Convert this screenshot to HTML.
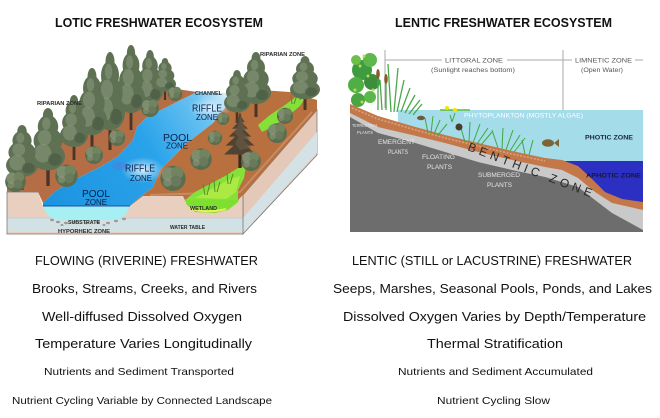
<!DOCTYPE html>
<html><head><meta charset="utf-8">
<style>
html,body{margin:0;padding:0;background:#fff;}
svg{display:block;}
text{font-family:"Liberation Sans",sans-serif;}
</style></head><body>
<svg width="660" height="418" viewBox="0 0 660 418" xmlns="http://www.w3.org/2000/svg">
<defs>
<symbol id="con" viewBox="0 0 20 50" preserveAspectRatio="none">
 <rect x="9" y="38" width="2" height="12" fill="#4b3526"/>
 <ellipse cx="10" cy="31" rx="10" ry="9" fill="#5e7153"/>
 <ellipse cx="10" cy="21" rx="8.5" ry="8.5" fill="#5e7153"/>
 <ellipse cx="10" cy="12" rx="6" ry="7.5" fill="#5e7153"/>
 <ellipse cx="10" cy="5" rx="3" ry="5" fill="#5e7153"/>
 <ellipse cx="7" cy="29" rx="5" ry="6" fill="#8a9a7b" opacity="0.55"/>
 <ellipse cx="8" cy="19" rx="4" ry="5" fill="#8a9a7b" opacity="0.55"/>
 <ellipse cx="9" cy="10" rx="2.5" ry="4" fill="#8a9a7b" opacity="0.55"/>
 <ellipse cx="14" cy="33" rx="4" ry="4" fill="#46573f" opacity="0.6"/>
</symbol>
<symbol id="fir" viewBox="0 0 20 50" preserveAspectRatio="none">
 <rect x="9" y="38" width="2" height="12" fill="#3b2a1e"/>
 <polygon points="10,0 11,4 10.5,4 13,9 11,9 15,15 12,15 17,22 13,22 19,30 14,30 20,38 0,38 6,30 1,30 7,22 3,22 8,15 5,15 9,9 7,9 9.5,4 9,4" fill="#4e4434"/>
 <polygon points="10,3 12,10 14,16 11,17 16,24 12,25 17,32 10,34 7,28 9,22 6,18 9,12" fill="#6b5e48" opacity="0.6"/>
</symbol>
<symbol id="bush" viewBox="0 0 20 20" preserveAspectRatio="none">
 <circle cx="10" cy="11" r="9" fill="#5b6d4f"/>
 <circle cx="7" cy="8" r="5" fill="#7d8d6d"/>
 <circle cx="13" cy="7" r="4.5" fill="#71835f"/>
 <circle cx="12" cy="13" r="4" fill="#687a5b"/>
 <circle cx="6" cy="14" r="3" fill="#8a9a7a" opacity=".6"/>
</symbol>
<linearGradient id="riv" gradientUnits="userSpaceOnUse" x1="43" y1="206" x2="232" y2="93">
 <stop offset="0" stop-color="#1b93e0"/>
 <stop offset="0.55" stop-color="#2aa3ea"/>
 <stop offset="0.85" stop-color="#6cc3f1"/>
 <stop offset="1" stop-color="#eef8fd"/>
</linearGradient>
<radialGradient id="rif">
 <stop offset="0" stop-color="#e4f3fc" stop-opacity="0.95"/>
 <stop offset="1" stop-color="#bfe3f8" stop-opacity="0"/>
</radialGradient>
</defs>

<!-- TITLES -->
<text x="55" y="27" font-size="12.5" font-weight="bold" fill="#111" textLength="208" lengthAdjust="spacingAndGlyphs">LOTIC FRESHWATER ECOSYSTEM</text>
<text x="395" y="27" font-size="12.5" font-weight="bold" fill="#111" textLength="217" lengthAdjust="spacingAndGlyphs">LENTIC FRESHWATER ECOSYSTEM</text>

<!-- ================= LEFT DIAGRAM ================= -->
<polygon points="243,195 317,110 317,155 243,234" fill="#e4c8b8" stroke="#7a7a7a" stroke-width="0.8"/>
<polygon points="243,218 317,132 317,153 243,233" fill="#d4e2e5"/>
<polygon points="7,192 38,192 43,206 130,206 143,196 183,196 185,200 238,200 243,195 243,234 7,234" fill="#e8cfc0"/>
<rect x="7" y="218" width="236" height="14" fill="#d2e1e4"/>
<line x1="7" y1="218" x2="243" y2="218" stroke="#b9c8cc" stroke-width="0.8"/>
<path d="M43,206 C46,214 50,220 62,220 L112,220 C123,220 127,213 130,206 Z" fill="#a6f0f4"/>
<g fill="#9a9a9a">
<ellipse cx="52" cy="220" rx="2" ry="1.2"/><ellipse cx="58" cy="222" rx="2" ry="1.2"/><ellipse cx="66" cy="223" rx="2" ry="1.2"/>
<ellipse cx="74" cy="222" rx="2" ry="1.2"/><ellipse cx="86" cy="223" rx="2" ry="1.2"/><ellipse cx="98" cy="222" rx="2" ry="1.2"/>
<ellipse cx="108" cy="223" rx="2" ry="1.2"/><ellipse cx="116" cy="221" rx="2" ry="1.2"/><ellipse cx="124" cy="219" rx="2" ry="1.2"/>
<ellipse cx="62" cy="225" rx="1.5" ry="1"/><ellipse cx="104" cy="225" rx="1.5" ry="1"/>
</g>
<polygon points="183,196 240,196 238,202 228,210 215,213 195,212 187,205" fill="#7ddf2e"/>
<path d="M189,208 Q205,214 226,209" stroke="#e6f25a" stroke-width="2" fill="none"/>
<rect x="7" y="192" width="236" height="42" fill="none" stroke="#7a7a7a" stroke-width="0.8"/>

<!-- terrain -->
<polygon points="7,192 7,178 40,150 70,125 100,105 140,95 170,88 197,92 187,97 167,107 147,117 137,127 133,140 117,157 100,167 80,177 57,190 43,203 38,192" fill="#b56d45"/>
<polygon points="130,206 140,197 153,187 160,170 173,157 187,143 200,133 213,123 220,113 230,103 232,93 260,90 290,92 317,100 317,110 243,195 238,200 185,200 183,196 143,196" fill="#b8703f"/>
<path d="M150,195 L240,192 L312,112" stroke="#cf9670" stroke-width="2" fill="none" opacity="0.7"/>
<polygon points="43,206 43,203 57,190 80,177 100,167 117,157 133,140 137,127 147,117 167,107 187,97 197,92 232,93 230,103 220,113 213,123 200,133 187,143 173,157 160,170 153,187 140,197 130,206" fill="url(#riv)"/>
<ellipse cx="143" cy="170" rx="22" ry="13" fill="url(#rif)"/>
<ellipse cx="210" cy="108" rx="22" ry="12" fill="url(#rif)"/>
<ellipse cx="120" cy="166" rx="8" ry="4" fill="#6a6ad8" opacity="0.35"/>
<line x1="43" y1="206" x2="130" y2="206" stroke="#1f4fa8" stroke-width="1"/>

<polygon points="185,200 195,192 210,184 225,176 238,168 246,166 244,178 238,190 238,200" fill="#86e03a"/>
<polygon points="195,198 210,190 228,180 240,176 236,192 226,199" fill="#c6ef4a" opacity="0.6"/>
<polygon points="258,125 270,115 285,105 297,96 306,97 300,106 288,116 272,127 262,132" fill="#86e03a"/>
<g stroke="#4f8f2a" stroke-width="1" fill="none">
<path d="M205,195 L203,184 M207,195 L210,183 M215,192 L214,180 M217,192 L220,182 M228,184 L227,173 M230,184 L233,174 M292,104 L291,95 M294,104 L297,95 M300,100 L302,92"/>
</g>

<!-- left bank trees -->
<use href="#con" x="137" y="50" width="26" height="67"/>
<use href="#con" x="154" y="58" width="22" height="42"/>
<use href="#con" x="117" y="45" width="28" height="85"/>
<use href="#con" x="95" y="52" width="30" height="98"/>
<use href="#con" x="77" y="68" width="30" height="84"/>
<use href="#bush" x="140" y="97" width="20" height="20"/>
<use href="#bush" x="167" y="85" width="16" height="16"/>
<use href="#con" x="60" y="95" width="28" height="65"/>
<use href="#bush" x="84" y="144" width="20" height="20"/>
<use href="#bush" x="108" y="128" width="18" height="18"/>
<use href="#con" x="31" y="108" width="34" height="78"/>
<use href="#bush" x="54" y="162" width="25" height="25"/>
<use href="#con" x="6" y="125" width="32" height="65"/>
<use href="#bush" x="4" y="169" width="23" height="23"/>

<!-- right bank trees -->
<use href="#con" x="290" y="56" width="30" height="54"/>
<use href="#con" x="241" y="52" width="30" height="65"/>
<use href="#con" x="224" y="70" width="26" height="53"/>
<use href="#bush" x="276" y="106" width="18" height="18"/>
<use href="#bush" x="266" y="121" width="22" height="22"/>
<use href="#bush" x="216" y="111" width="14" height="14"/>
<use href="#bush" x="207" y="129" width="16" height="16"/>
<use href="#fir" x="224" y="112" width="32" height="56"/>
<use href="#bush" x="240" y="149" width="22" height="22"/>
<use href="#bush" x="189" y="146" width="24" height="24"/>
<use href="#bush" x="159" y="163" width="28" height="28"/>

<g font-weight="bold" fill="#2a2a2a" font-size="5.5">
<text x="37" y="105" textLength="45" lengthAdjust="spacingAndGlyphs">RIPARIAN ZONE</text>
<text x="260" y="56" textLength="45" lengthAdjust="spacingAndGlyphs">RIPARIAN ZONE</text>
<text x="195" y="95" textLength="27" lengthAdjust="spacingAndGlyphs">CHANNEL</text>
<text x="190" y="210" textLength="27" lengthAdjust="spacingAndGlyphs">WETLAND</text>
<text x="68" y="224" textLength="32" lengthAdjust="spacingAndGlyphs">SUBSTRATE</text>
<text x="58" y="233" textLength="52" lengthAdjust="spacingAndGlyphs">HYPORHEIC ZONE</text>
<text x="170" y="229" textLength="35" lengthAdjust="spacingAndGlyphs">WATER TABLE</text>
</g>
<g fill="#0b1d4a" font-size="10">
<text x="192" y="111.5" textLength="30" lengthAdjust="spacingAndGlyphs">RIFFLE</text>
<text x="196" y="120" textLength="22" lengthAdjust="spacingAndGlyphs" font-size="8.5">ZONE</text>
<text x="163" y="141" textLength="29" lengthAdjust="spacingAndGlyphs">POOL</text>
<text x="166" y="148.5" textLength="22" lengthAdjust="spacingAndGlyphs" font-size="8.5">ZONE</text>
<text x="125" y="171.5" textLength="30" lengthAdjust="spacingAndGlyphs">RIFFLE</text>
<text x="130" y="181" textLength="22" lengthAdjust="spacingAndGlyphs" font-size="8.5">ZONE</text>
<text x="82" y="197" textLength="28" lengthAdjust="spacingAndGlyphs">POOL</text>
<text x="85" y="205" textLength="22" lengthAdjust="spacingAndGlyphs" font-size="8.5">ZONE</text>
</g>

<!-- ================= RIGHT DIAGRAM ================= -->
<polygon points="350,107 378,118 412,128 445,137 478,145 512,153 545,160 562,161 578,167 592,180 605,193 622,200 643,203 643,232 350,232" fill="#6d6d6d"/>
<polygon points="350,107 378,118 412,128 445,137 478,145 512,153 545,160 562,161 578,167 592,180 605,193 622,200 643,203 643,230 612,213 578,187 545,177 512,170 478,162 445,152 412,142 378,133 350,117" fill="#c9c9c9"/>
<polygon points="398,110 643,110 643,203 622,200 605,193 592,180 578,167 562,161 545,160 512,153 478,145 445,137 412,128 398,124" fill="#a4dce9"/>
<polygon points="563,161 643,161 643,203 628,201 612,197 598,188 588,178 578,168" fill="#2b2fc2"/>
<polygon points="350,104 378,116 412,126 445,135 478,143 512,151 545,158 562,160 578,166 592,179 605,192 622,199 643,202 643,210 612,203 595,192 578,178 562,170 545,167 512,160 478,152 445,143 412,135 378,127 350,113" fill="#c4784a"/>
<path d="M352,108 L378,119 L412,129 L445,138 L478,146 L512,154 L545,161" stroke="#e2b58a" stroke-width="1.5" fill="none" opacity="0.7" stroke-dasharray="2,1.5"/>

<g stroke="#a8a8a8" stroke-width="1">
<line x1="385" y1="50" x2="385" y2="108"/>
<line x1="563" y1="50" x2="563" y2="110"/>
<line x1="385" y1="60" x2="442" y2="60"/>
<line x1="507" y1="60" x2="572" y2="60"/>
<line x1="635" y1="60" x2="643" y2="60"/>
</g>
<g fill="#555" font-size="6.5">
<text x="445" y="62.5" textLength="58" lengthAdjust="spacingAndGlyphs">LITTORAL ZONE</text>
<text x="431" y="72" textLength="84" lengthAdjust="spacingAndGlyphs">(Sunlight reaches bottom)</text>
<text x="575" y="62.5" textLength="57" lengthAdjust="spacingAndGlyphs">LIMNETIC ZONE</text>
<text x="581" y="72" textLength="42" lengthAdjust="spacingAndGlyphs">(Open Water)</text>
</g>

<g>
<circle cx="362" cy="70" r="10" fill="#3f9b3f"/>
<circle cx="356" cy="85" r="8" fill="#4fae44"/>
<circle cx="370" cy="60" r="7" fill="#5cb84a"/>
<circle cx="372" cy="82" r="8" fill="#3b8e3a"/>
<circle cx="358" cy="100" r="7" fill="#4aa442"/>
<circle cx="370" cy="97" r="6" fill="#5cb84a"/>
<circle cx="356" cy="60" r="5" fill="#6cc04a"/>
<g fill="#b8dc52"><circle cx="360" cy="66" r="1.5"/><circle cx="368" cy="76" r="1.5"/><circle cx="355" cy="90" r="1.5"/><circle cx="373" cy="90" r="1.5"/><circle cx="364" cy="56" r="1.5"/><circle cx="362" cy="102" r="1.5"/></g>
</g>
<g stroke="#4aa84a" stroke-width="1.3" fill="none">
<path d="M378,110 L378,70 M386,110 L386,75"/>
<path d="M391,112 L388,64 M394,112 L398,68 M397,112 L404,80 M401,112 L410,88 M405,113 L415,95 M409,114 L420,100 M413,115 L422,104 M382,110 L380,80"/>
</g>
<ellipse cx="378" cy="74" rx="1.8" ry="5" fill="#8b5a2b"/>
<ellipse cx="386" cy="79" rx="1.8" ry="5" fill="#8b5a2b"/>
<path d="M440,110 L470,110" stroke="#5bbf3a" stroke-width="1.5"/>
<circle cx="447" cy="108" r="2" fill="#f5e400"/>
<circle cx="455" cy="110" r="2" fill="#f5e400"/>
<g stroke="#3daa3d" stroke-width="1" fill="none">
<path d="M428,133 L425,118 M431,133 L433,116 M434,134 L440,120 M438,135 L447,124"/>
<path d="M465,142 L460,125 M469,142 L470,122 M473,143 L480,124 M477,144 L488,128 M481,145 L492,132"/>
<path d="M498,148 L492,130 M502,149 L503,128 M506,150 L513,130 M510,151 L520,135 M514,152 L525,138"/>
<path d="M525,154 L522,140 M529,155 L533,140"/>
<path d="M450,115 L452,122 M455,113 L452,122" />
</g>
<ellipse cx="421" cy="118" rx="4" ry="2.2" fill="#6b5a3a"/>
<circle cx="459" cy="127" r="3.5" fill="#4a3c2a"/>
<ellipse cx="548" cy="143" rx="6" ry="3.8" fill="#7d6336"/>
<polygon points="554,143 559,139 559,147" fill="#7d6336"/>

<text x="464" y="117.5" font-size="6.5" fill="#ffffff" textLength="119" lengthAdjust="spacingAndGlyphs">PHYTOPLANKTON (MOSTLY ALGAE)</text>
<text x="585" y="139.5" font-size="6.5" font-weight="bold" fill="#1d2838" textLength="48" lengthAdjust="spacingAndGlyphs">PHOTIC ZONE</text>
<text x="586" y="177.5" font-size="6.5" font-weight="bold" fill="#14183a" textLength="55" lengthAdjust="spacingAndGlyphs">APHOTIC ZONE</text>
<g fill="#e6e6e6">
<text x="352" y="127" font-size="4.5" textLength="26" lengthAdjust="spacingAndGlyphs">TERRESTRIAL</text>
<text x="357" y="134" font-size="4.5" textLength="16" lengthAdjust="spacingAndGlyphs">PLANTS</text>
<text x="378" y="144" font-size="6.5" textLength="37" lengthAdjust="spacingAndGlyphs">EMERGENT</text>
<text x="388" y="154" font-size="6.5" textLength="20" lengthAdjust="spacingAndGlyphs">PLANTS</text>
<text x="422" y="159" font-size="6.5" textLength="33" lengthAdjust="spacingAndGlyphs">FLOATING</text>
<text x="427" y="169" font-size="6.5" textLength="25" lengthAdjust="spacingAndGlyphs">PLANTS</text>
<text x="478" y="177" font-size="6.5" textLength="42" lengthAdjust="spacingAndGlyphs">SUBMERGED</text>
<text x="487" y="187" font-size="6.5" textLength="25" lengthAdjust="spacingAndGlyphs">PLANTS</text>
</g>
<text transform="translate(467,150) rotate(21)" x="0" y="0" font-size="12" fill="#2a2a2a" textLength="132" lengthAdjust="spacing">BENTHIC ZONE</text>

<!-- ================= BOTTOM TEXT ================= -->
<g fill="#111" font-size="12.5">
<text x="35" y="265" textLength="223" lengthAdjust="spacingAndGlyphs">FLOWING (RIVERINE) FRESHWATER</text>
<text x="32" y="293" textLength="225" lengthAdjust="spacingAndGlyphs">Brooks, Streams, Creeks, and Rivers</text>
<text x="42" y="321" textLength="200" lengthAdjust="spacingAndGlyphs">Well-diffused Dissolved Oxygen</text>
<text x="35" y="348" textLength="217" lengthAdjust="spacingAndGlyphs">Temperature Varies Longitudinally</text>
<text x="352" y="265" textLength="280" lengthAdjust="spacingAndGlyphs">LENTIC (STILL or LACUSTRINE) FRESHWATER</text>
<text x="333" y="293" textLength="319" lengthAdjust="spacingAndGlyphs">Seeps, Marshes, Seasonal Pools, Ponds, and Lakes</text>
<text x="343" y="321" textLength="303" lengthAdjust="spacingAndGlyphs">Dissolved Oxygen Varies by Depth/Temperature</text>
<text x="427" y="348" textLength="136" lengthAdjust="spacingAndGlyphs">Thermal Stratification</text>
</g>
<g fill="#111" font-size="10.5">
<text x="44" y="375" textLength="190" lengthAdjust="spacingAndGlyphs">Nutrients and Sediment Transported</text>
<text x="12" y="404" textLength="260" lengthAdjust="spacingAndGlyphs">Nutrient Cycling Variable by Connected Landscape</text>
<text x="398" y="375" textLength="195" lengthAdjust="spacingAndGlyphs">Nutrients and Sediment Accumulated</text>
<text x="437" y="404" textLength="113" lengthAdjust="spacingAndGlyphs">Nutrient Cycling Slow</text>
</g>
</svg>
</body></html>
